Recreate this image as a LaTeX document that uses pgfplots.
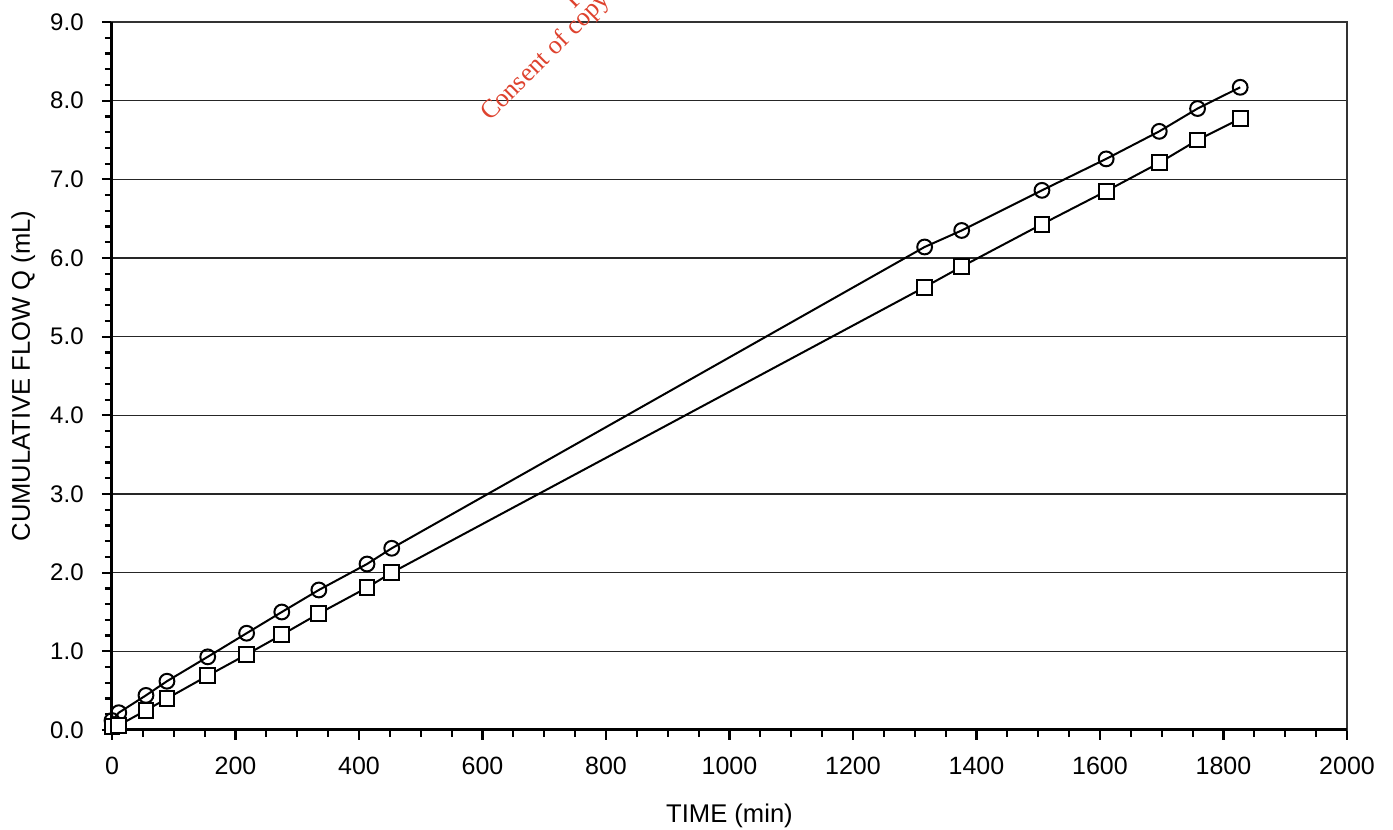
\documentclass[border=0pt]{standalone}
\usepackage{fontspec}
\setmainfont{Liberation Sans}
\newfontfamily\wmfont{Liberation Serif}
\usepackage{pgfplots}
\pgfplotsset{compat=1.18}
\definecolor{wmred}{RGB}{222,66,46}
\begin{document}
\begin{tikzpicture}
\path[use as bounding box] (-56pt,-50pt) rectangle (640.5pt,365pt);
\begin{axis}[
  scale only axis, width=617.5pt, height=354pt,
  at={(0,0)}, anchor=south west,
  xmin=0, xmax=2000, ymin=0, ymax=9,
  xtick={0,200,...,2000}, ytick={0,1,...,9},
  minor x tick num=3, minor y tick num=4,
  tick pos=left, tick align=outside,
  major tick length=5pt, minor tick length=3.5pt,
  every tick/.style={black, line width=1.1pt},
  ymajorgrids, major grid style={black!85, line width=0.8pt},
  axis line style={line width=0.6pt, black!80},
  clip=false,
  /pgf/number format/assume math mode=true,
  /pgf/number format/1000 sep={},
  yticklabel style={/pgf/number format/fixed, /pgf/number format/fixed zerofill, /pgf/number format/precision=1, font=\fontsize{12}{14}\selectfont, anchor=east, inner sep=0pt, xshift=-9pt},
  xticklabel style={font=\fontsize{12.5}{14}\selectfont, anchor=north, inner sep=0pt, yshift=-8.5pt},
  xlabel={TIME (min)}, ylabel={CUMULATIVE FLOW Q (mL)},
  every axis x label/.style={at={(axis description cs:0.5,-0.131)}, anchor=base, font=\fontsize{12.8}{15}\selectfont},
  every axis y label/.style={at={(axis description cs:-0.0664,0.5)}, anchor=base, rotate=90, font=\fontsize{12.8}{15}\selectfont},
]
\draw[line width=1.5pt, black] (rel axis cs:0,1) -- (rel axis cs:0,0) -- (rel axis cs:1,0);
\addplot[black, line width=1pt, mark=o, mark size=3.7pt, mark options={line width=1pt}] coordinates {
 (0,0.12) (11,0.22) (55,0.44) (89,0.62) (155,0.93) (218,1.23) (275,1.50) (335,1.78) (413,2.11) (453,2.31)
 (1316,6.14) (1376,6.35) (1506,6.86) (1610,7.26) (1696,7.61) (1758,7.90) (1827,8.17)};
\addplot[black, line width=1pt, mark=square*, mark size=3.7pt, mark options={line width=1pt, fill=white}] coordinates {
 (0,0.04) (11,0.06) (55,0.25) (89,0.40) (155,0.69) (218,0.96) (275,1.21) (335,1.48) (413,1.81) (453,2.00)
 (1316,5.63) (1376,5.89) (1506,6.43) (1610,6.85) (1696,7.21) (1758,7.50) (1827,7.77)};
\end{axis}
\node[rotate=45, anchor=base west, text=wmred, font=\wmfont\fontsize{13}{15}\selectfont, inner sep=0pt] at (189pt,304pt) {Consent of copy};
\node[rotate=45, anchor=base west, text=wmred, font=\wmfont\fontsize{13}{15}\selectfont, inner sep=0pt] at (231pt,360pt) {F};
\end{tikzpicture}
\end{document}
